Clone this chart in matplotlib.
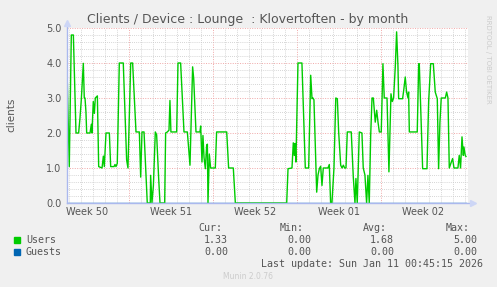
import numpy as np
import matplotlib
matplotlib.use("Agg")
import matplotlib.pyplot as plt
from matplotlib.patches import Rectangle

# data: time in days from the left edge of the graph, values in clients
days = [0.03, 0.19, 0.36, 0.53, 0.75, 0.97, 1.08, 1.19, 1.36, 1.44, 1.5, 1.58, 1.64,
        1.92, 2.03, 2.08, 2.19, 2.28, 2.36, 2.53, 2.64, 2.92, 3.03, 3.11, 3.25, 3.53,
        3.64, 3.92, 4.0, 4.08, 4.19, 4.36, 4.69, 4.97, 5.08, 5.31, 5.47, 5.75, 6.03,
        6.14, 6.25, 6.42, 6.69, 6.94, 6.97, 7.08, 7.2, 7.36, 7.47, 7.64, 7.75, 8.14,
        8.22, 8.36, 8.5, 8.58, 8.66, 9.14, 9.25, 9.47, 9.75, 10.03, 10.25, 10.47,
        10.56, 10.75, 11.08, 11.14, 11.25, 11.33, 11.42, 11.53, 11.64, 11.7, 11.75,
        11.86, 11.97, 12.36, 12.47, 13.31, 13.47, 13.86, 14.03, 18.31, 18.42, 18.75,
        18.86, 18.94, 19.0, 19.08, 19.25, 19.58, 19.86, 20.14, 20.31, 20.42, 20.5,
        20.58, 20.81, 20.92, 21.03, 21.14, 21.25, 21.36, 21.75, 21.86, 21.97, 22.08,
        22.25, 22.4, 22.53, 22.64, 22.81, 22.92, 23.03, 23.14, 23.25, 23.36, 23.69,
        23.86, 24.0, 24.08, 24.19, 24.36, 24.58, 24.69, 24.83, 24.97, 25.08, 25.19,
        25.31, 25.42, 25.53, 25.69, 25.81, 25.92, 26.03, 26.19, 26.33, 26.44, 26.67,
        26.83, 27.0, 27.11, 27.22, 27.36, 27.47, 27.58, 27.64, 27.97, 28.08, 28.19,
        28.3, 28.42, 28.47, 28.53, 29.19, 29.31, 29.36, 29.5, 29.64, 30.0, 30.14,
        30.31, 30.53, 30.69, 30.86, 30.97, 31.08, 31.19, 31.53, 31.64, 31.75, 31.86,
        32.03, 32.14, 32.25, 32.58, 32.69, 32.8, 32.92, 33.03, 33.08, 33.19, 33.25]
users = [3.42, 1.04, 4.8, 4.8, 2.0, 2.0, 2.42, 2.94, 3.99, 3.0, 3.0, 2.6, 2.0,
         2.0, 2.25, 2.0, 2.9, 2.56, 3.0, 3.06, 1.04, 1.0, 1.34, 1.04, 2.0, 2.0,
         1.04, 1.04, 1.1, 1.04, 1.13, 4.0, 4.0, 1.23, 1.0, 4.0, 4.0, 2.03, 2.03,
         0.74, 2.03, 2.03, 0.0, 0.0, 0.79, 0.0, 0.5, 2.03, 1.95, 0.7, 0.0, 0.0,
         2.0, 2.03, 2.08, 2.93, 2.03, 2.03, 4.0, 4.0, 2.03, 2.03, 1.08, 3.89,
         3.55, 2.03, 2.03, 2.2, 1.17, 1.93, 1.3, 0.98, 1.65, 1.68, 0.0,
         1.4, 1.0, 1.0, 2.03, 2.03, 1.0, 1.0, 0.0, 0.0, 0.98, 1.0,
         1.72, 1.36, 1.7, 1.17, 4.0, 4.0, 1.0, 1.0, 3.65, 2.98, 3.0,
         2.95, 0.31, 0.8, 0.98, 1.05, 0.5, 1.0, 1.0, 1.1, 0.0, 0.0,
         1.0, 3.0, 2.98, 2.03, 1.08, 1.0, 1.08, 1.0, 1.0, 2.03, 2.03,
         0.74, 0.0, 0.7, 0.0, 2.03, 2.0, 1.0, 0.8, 0.0, 0.79, 0.0,
         1.93, 3.0, 3.0, 2.31, 2.65, 2.31, 2.03, 2.03, 3.98, 3.0, 3.0,
         0.89, 3.12, 2.9, 3.0, 3.9, 4.89, 3.93, 2.98, 2.98, 3.27, 3.6,
         3.17, 3.0, 3.17, 2.03, 2.03, 3.98, 3.98, 2.5, 0.98, 0.98, 2.9,
         3.98, 3.98, 3.17, 2.98, 0.98, 2.3, 3.0, 3.0, 3.17, 3.0, 1.0,
         1.17, 1.27, 1.0, 1.0, 1.36, 1.0, 1.89, 1.36, 1.6, 1.36, 1.33]
guests = [0.0] * len(days)

week_labels = ["Week 50", "Week 51", "Week 52", "Week 01", "Week 02"]
week_starts = [5.2, 12.2, 19.2, 26.2]
x_max = 33.42

legend_names = ["Users", "Guests"]
legend_colors = ["#00cc00", "#0066b3"]
legend_stats = [["1.33", "0.00", "1.68", "5.00"], ["0.00", "0.00", "0.00", "0.00"]]
stat_headers = ["Cur:", "Min:", "Avg:", "Max:"]

W, H = 497, 287
fig = plt.figure(figsize=(W / 100, H / 100), dpi=100, facecolor="#f0f0f0")
ax = fig.add_axes([67 / W, 1 - 203 / H, 401 / W, 175 / H])
ax.set_facecolor("white")
ax.set_xlim(0, x_max)
ax.set_ylim(0, 5)
for s in ax.spines.values():
    s.set_visible(False)

# grid
minor = dict(color="#c8c8c8", lw=0.6, dashes=(1, 1.5), zorder=1)
major = dict(color="#f0a8a8", lw=0.7, dashes=(1, 1.5), zorder=1)
for d in np.arange(0.2, x_max, 1.0):
    if any(abs(d - w) < 0.01 for w in week_starts):
        continue
    ax.axvline(d, **minor)
for w in week_starts:
    ax.axvline(w, **major)
for v in np.arange(0.2, 5.01, 0.2):
    if abs(v - round(v)) < 0.01:
        ax.axhline(v, **major)
    else:
        ax.axhline(v, **minor)

ax.plot(days, guests, color=legend_colors[1], lw=1.0, zorder=3)
ax.plot(days, users, color=legend_colors[0], lw=1.0, zorder=4)

# axis lines with arrow heads
axc = "#aab8ee"
ax.plot([0, 1.013], [0, 0], transform=ax.transAxes, color=axc, lw=1, clip_on=False, zorder=5)
ax.plot([0, 0], [0, 1.03], transform=ax.transAxes, color=axc, lw=1, clip_on=False, zorder=5)
ax.plot([1.013], [0], transform=ax.transAxes, marker=">", ms=4, color="#cdd6f6", clip_on=False, zorder=5)
ax.plot([0], [1.03], transform=ax.transAxes, marker="^", ms=4, color="#cdd6f6", clip_on=False, zorder=5)

ax.set_yticks([0, 1, 2, 3, 4, 5])
ax.set_yticklabels(["%.1f" % v for v in [0, 1, 2, 3, 4, 5]])
mids = [week_starts[0] - 3.5] + [w + 3.5 for w in week_starts]
ax.set_xticks(mids)
ax.set_xticklabels(week_labels)
ax.tick_params(length=0, labelsize=7, colors="#555555", pad=3)
ax.tick_params(axis="y", pad=4)

txt = "#555555"
fig.text(248 / W, 1 - 19 / H, "Clients / Device : Lounge  : Klovertoften - by month",
         ha="center", va="center", fontsize=9, color=txt)
fig.text(11 / W, 1 - 115 / H, "clients", rotation=90, ha="center", va="center",
         fontsize=7.5, color=txt)
fig.text(488 / W, 1 - 15 / H, "RRDTOOL / TOBI OETIKER", rotation=270, ha="center",
         va="top", fontsize=5, color="#cccccc")

mono = "DejaVu Sans Mono"
hdr_x = [222, 304, 387, 470]
val_x = [228, 311, 394, 477]
for h, x in zip(stat_headers, hdr_x):
    fig.text(x / W, 1 - 228 / H, h, ha="right", va="center", family=mono, fontsize=7.2, color=txt)
for i, (name, col, stats) in enumerate(zip(legend_names, legend_colors, legend_stats)):
    y = 240 + i * 12.3
    fig.patches.append(Rectangle((14 / W, 1 - (y + 2.5) / H), 5.5 / W, 5.5 / H,
                                 transform=fig.transFigure, color=col, figure=fig))
    fig.text(26 / W, 1 - y / H, name, ha="left", va="center", family=mono, fontsize=7.2, color=txt)
    for v, x in zip(stats, val_x):
        fig.text(x / W, 1 - y / H, v, ha="right", va="center", family=mono, fontsize=7.2, color=txt)
fig.text(483 / W, 1 - 264 / H, "Last update: Sun Jan 11 00:45:15 2026", ha="right",
         va="center", family=mono, fontsize=7.2, color=txt)
fig.text(248 / W, 1 - 276.5 / H, "Munin 2.0.76", ha="center", va="center",
         fontsize=5.5, color="#cccccc")

fig.savefig("out.png", dpi=100, facecolor=fig.get_facecolor())
